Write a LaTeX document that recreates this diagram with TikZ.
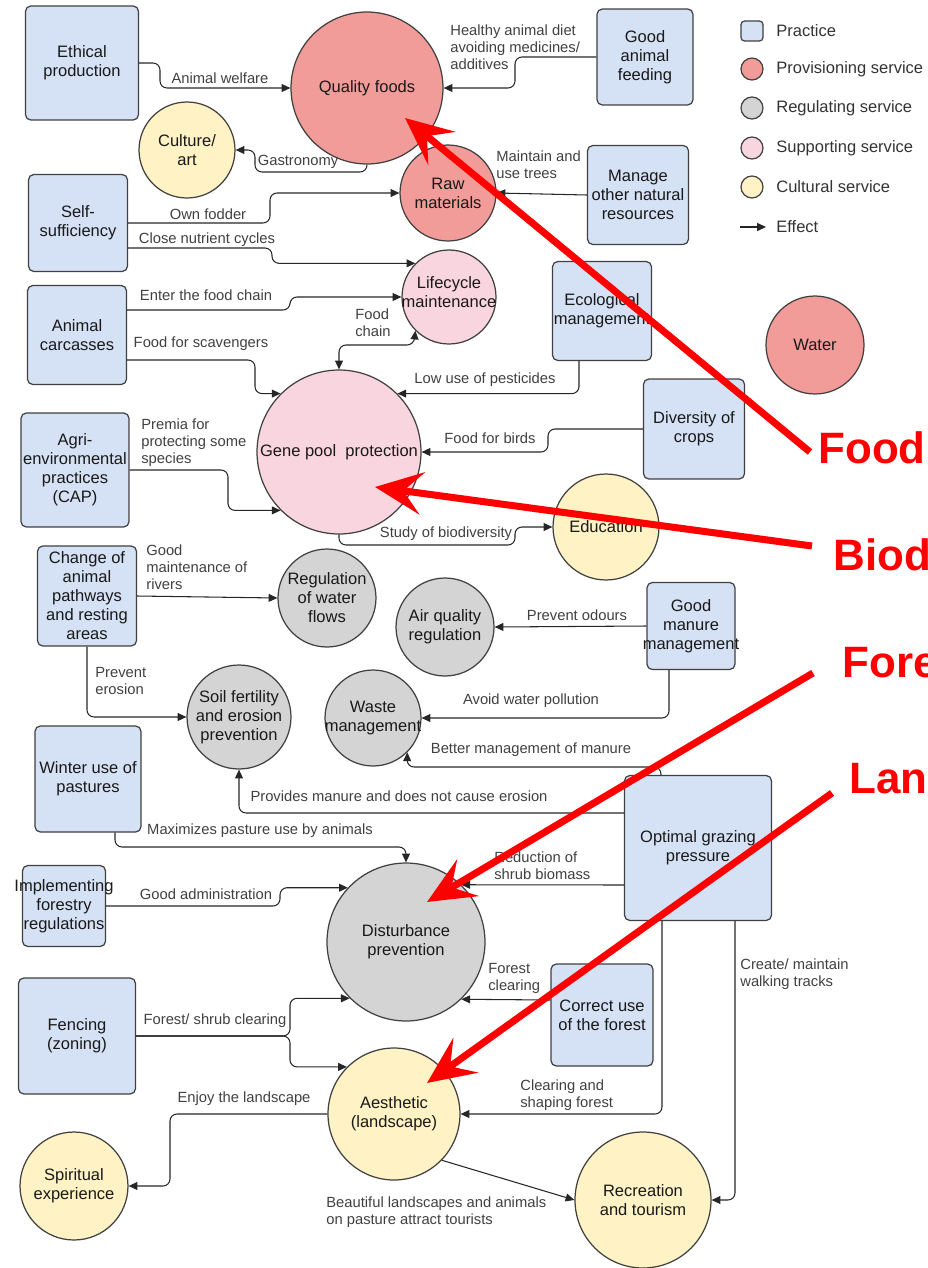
\documentclass[tikz,border=0pt]{standalone}
\usepackage{fontspec}
\setmainfont{Liberation Sans}
\usetikzlibrary{arrows.meta}

\definecolor{practicefill}{RGB}{213,225,244}
\definecolor{provfill}{RGB}{241,156,153}
\definecolor{regfill}{RGB}{212,212,212}
\definecolor{suppfill}{RGB}{249,214,223}
\definecolor{cultfill}{RGB}{255,242,196}
\newcommand{\ndfont}{\fontsize{9.4}{10.8}\selectfont}
\newcommand{\lbfont}{\fontsize{8.4}{9.9}\selectfont}
\newcommand{\rdfont}{\fontsize{25}{30}\selectfont\bfseries}

\begin{document}
\begin{tikzpicture}[x=0.02cm, y=-0.02cm,
    practice/.style={draw=black!75, line width=0.7pt, fill=practicefill, rounded corners=3pt, inner sep=0pt},
    prov/.style={circle, draw=black!75, line width=0.7pt, fill=provfill, inner sep=0pt},
    reg/.style={prov, fill=regfill},
    supp/.style={prov, fill=suppfill},
    cult/.style={prov, fill=cultfill},
    nt/.style={font=\ndfont, text=black!90, align=center, inner sep=0pt},
    effect/.style={draw=black!85, line width=0.6pt, rounded corners=4pt, -{Triangle[length=5pt,width=4.5pt]}},
    lbl/.style={font=\lbfont, text=black!75, align=left, inner sep=0pt},
    lgtxt/.style={font=\ndfont, text=black!80, anchor=west, inner sep=0pt},
    redarrow/.style={draw=red, line width=4pt, -{Stealth[length=0.95cm,width=0.85cm,inset=0.38cm]}},
    redtxt/.style={font=\rdfont, text=red, anchor=base west, inner sep=0pt}]
    \useasboundingbox (0,0) rectangle (927,1268);
    \clip (0,0) rectangle (927,1268);

    % Practices
    \node[practice, minimum width=2.26cm, minimum height=2.28cm, label={[nt]center:{Ethical\\production}}] (ethic) at (82,63) {};
    \node[practice, minimum width=1.92cm, minimum height=1.92cm, label={[nt]center:{Good\\animal\\feeding}}] (feeding) at (645,57) {};
    \node[practice, minimum width=2.02cm, minimum height=1.98cm, label={[nt]center:{Manage\\other natural\\resources}}] (manage) at (638,195) {};
    \node[practice, minimum width=1.98cm, minimum height=1.94cm, label={[nt]center:{Self-\\sufficiency}}] (selfs) at (78,223) {};
    \node[practice, minimum width=1.98cm, minimum height=1.98cm, label={[nt]center:{Animal\\carcasses}}] (carc) at (77,335) {};
    \node[practice, minimum width=1.98cm, minimum height=1.98cm, label={[nt]center:{Ecological\\management}}] (eco) at (602,311) {};
    \node[practice, minimum width=2.02cm, minimum height=2.0cm, label={[nt]center:{Diversity of\\crops}}] (crops) at (694,429) {};
    \node[practice, minimum width=2.16cm, minimum height=2.28cm, label={[nt]center:{Agri-\\environmental\\practices\\(CAP)}}] (agri) at (75,470) {};
    \node[practice, minimum width=1.98cm, minimum height=2.0cm, label={[nt]center:{Change of\\animal\\pathways\\and resting\\areas}}] (chg) at (87,596) {};
    \node[practice, minimum width=1.76cm, minimum height=1.74cm, label={[nt]center:{Good\\manure\\management}}] (manure) at (691,626) {};
    \node[practice, minimum width=2.12cm, minimum height=2.12cm, label={[nt]center:{Winter use of\\pastures}}] (wint) at (88,779) {};
    \node[practice, minimum width=2.94cm, minimum height=2.9cm, label={[nt]center:{Optimal grazing\\pressure}}] (graze) at (698,848) {};
    \node[practice, minimum width=1.66cm, minimum height=1.62cm, label={[nt]center:{Implementing\\forestry\\regulations}}] (impl) at (64,906) {};
    \node[practice, minimum width=2.34cm, minimum height=2.32cm, label={[nt]center:{Fencing\\(zoning)}}] (fence) at (77,1036) {};
    \node[practice, minimum width=2.04cm, minimum height=2.04cm, label={[nt]center:{Correct use\\of the forest}}] (corr) at (602,1015) {};

    % Services
    \node[prov, minimum size=3.04cm, label={[nt]center:Quality foods}] (quality) at (367,88) {};
    \node[cult, minimum size=1.92cm, label={[nt]center:{Culture/\\art}}] (culture) at (187,150) {};
    \node[prov, minimum size=1.92cm, label={[nt]center:{Raw\\materials}}] (raw) at (448,193) {};
    \node[supp, minimum size=1.88cm, label={[nt, yshift=0.1cm]center:{Lifecycle\\maintenance}}] (life) at (449,297) {};
    \node[prov, minimum size=1.96cm, label={[nt]center:Water}] (water) at (815,345) {};
    \node[supp, minimum size=3.28cm, label={[nt]center:Gene pool\ \ protection}] (gene) at (339,452) {};
    \node[cult, minimum size=2.12cm, label={[nt]center:Education}] (edu) at (606,527) {};
    \node[reg, minimum size=1.96cm, label={[nt]center:{Regulation\\of water\\flows}}] (flows) at (327,598) {};
    \node[reg, minimum size=1.96cm, label={[nt]center:{Air quality\\regulation}}] (air) at (445,627) {};
    \node[reg, minimum size=2.08cm, label={[nt]center:{Soil fertility\\and erosion\\prevention}}] (soil) at (239,717) {};
    \node[reg, minimum size=1.92cm, label={[nt]center:{Waste\\management}}] (waste) at (373,718) {};
    \node[reg, minimum size=3.16cm, label={[nt]center:{Disturbance\\prevention}}] (dist) at (406,942) {};
    \node[cult, minimum size=2.64cm, label={[nt]center:{Aesthetic\\(landscape)}}] (aes) at (394,1114) {};
    \node[cult, minimum size=2.16cm, label={[nt]center:{Spiritual\\experience}}] (spirit) at (74,1186) {};
    \node[cult, minimum size=2.72cm, label={[nt]center:{Recreation\\and tourism}}] (rec) at (643,1200) {};

    % Effects
    \draw[effect] (ethic.east) -- (160,63) |- (quality.west);
    \draw[effect] (feeding.west) -- (515,57) |- (quality.east);
    \draw[effect] (quality.south) |- (255,172) |- (culture.east);
    \draw[effect] (selfs.east) -- (270,223) |- (raw.west);
    \draw[effect] ([yshift=-0.5cm]selfs.east) -- (272,248) |- (life.135);
    \draw[effect] (manage.west) -- (raw.east);
    \draw[effect] ([yshift=0.5cm]carc.east) -- (290,310) |- (life.west);
    \draw[effect] ([yshift=-0.5cm]carc.east) -- (255,360) |- (gene.135);
    \draw[effect, {Triangle[length=5pt,width=4.5pt]}-{Triangle[length=5pt,width=4.5pt]}] (gene.north) |- (414,345) -- (life.225);
    \draw[effect] ([xshift=-0.46cm]eco.south) |- (gene.45);
    \draw[effect] (crops.west) -- (548,429) |- (gene.east);
    \draw[effect] (agri.east) -- (228,470) |- (gene.225);
    \draw[effect] (gene.south) |- (515,545) |- (edu.west);
    \draw[effect] (chg.east) -- (flows.west);
    \draw[effect] (chg.south) |- (soil.west);
    \draw[effect] (manure.west) -- (air.east);
    \draw[effect] ([xshift=-0.44cm]manure.south) |- (waste.east);
    \draw[effect] ([xshift=-0.74cm]graze.north) |- (407,767) -- (waste.-45);
    \draw[effect] ([yshift=0.7cm]graze.west) -| (soil.south);
    \draw[effect] ([xshift=0.54cm]wint.south) |- (406,847) -- (dist.north);
    \draw[effect] ([yshift=-0.74cm]graze.west) -- (dist.46);
    \draw[effect] (impl.east) -- (280,906) |- (dist.137);
    \draw[effect] (fence.east) -- (290,1036) |- (dist.225);
    \draw[effect] (fence.east) -- (290,1036) |- (aes.135);
    \draw[effect] ([yshift=0.3cm]corr.west) -- (dist.-46);
    \draw[effect] ([xshift=-0.72cm]graze.south) |- (aes.east);
    \draw[effect] ([xshift=0.74cm]graze.south) |- (rec.east);
    \draw[effect] (aes.west) -- (170,1114) |- (spirit.east);
    \draw[effect] (aes.-44) -- (rec.west);

    % Effect labels
    \node[lbl] (l1) at (220,78) {Animal welfare};
    \node[lbl, anchor=north west] (l2) at (450,24) {Healthy animal diet\\avoiding medicines/\\additives};
    \node[lbl] (l3) at (298,162) {Gastronomy};
    \node[lbl] (l4) at (208,214) {Own fodder};
    \node[lbl] (l5) at (207,240) {Close nutrient cycles};
    \node[lbl, anchor=north west] (l6) at (496,150) {Maintain and\\use trees};
    \node[lbl] (l7) at (206,295) {Enter the food chain};
    \node[lbl] (l8) at (201,344) {Food for scavengers};
    \node[lbl, anchor=north west] (l9) at (355,308) {Food\\chain};
    \node[lbl] (l10) at (485,380) {Low use of pesticides};
    \node[lbl] (l11) at (490,438) {Food for birds};
    \node[lbl, anchor=north west] (l12) at (141,418) {Premia for\\protecting some\\species};
    \node[lbl] (l13) at (446,534) {Study of biodiversity};
    \node[lbl, anchor=north west] (l14) at (146,544) {Good\\maintenance of\\rivers};
    \node[lbl, anchor=north west] (l15) at (95,667) {Prevent\\erosion};
    \node[lbl] (l16) at (577,615) {Prevent odours};
    \node[lbl] (l17) at (531,701) {Avoid water pollution};
    \node[lbl] (l18) at (531,750) {Better management of manure};
    \node[lbl] (l19) at (399,796) {Provides manure and does not cause erosion};
    \node[lbl] (l20) at (260,831) {Maximizes pasture use by animals};
    \node[lbl, anchor=north west] (l21) at (494,851) {Reduction of\\shrub biomass};
    \node[lbl] (l22) at (206,894) {Good administration};
    \node[lbl] (l23) at (215,1021) {Forest/ shrub clearing};
    \node[lbl, anchor=north west] (l24) at (488,963) {Forest\\clearing};
    \node[lbl, anchor=north west] (l25) at (520,1079) {Clearing and\\shaping forest};
    \node[lbl, anchor=north west] (l26) at (740,958) {Create/ maintain\\walking tracks};
    \node[lbl] (l27) at (244,1099) {Enjoy the landscape};
    \node[lbl, anchor=north west] (l28) at (326,1196) {Beautiful landscapes and animals\\on pasture attract tourists};

    % Legend
    \node[practice, minimum width=0.44cm, minimum height=0.4cm, rounded corners=2pt] (lgp) at (752,31) {};
    \node[lgtxt] (lgtp) at (776,31) {Practice};
    \foreach \y/\sty/\txt [count=\i] in {69/prov/Provisioning service, 108/reg/Regulating service, 148/supp/Supporting service, 187/cult/Cultural service} {
        \node[\sty, minimum size=0.44cm] (lgc\i) at (752,\y) {};
        \node[lgtxt] (lgt\i) at (776,\y) {\txt};
    }
    \coordinate (lgA) at (740,227);
    \coordinate (lgB) at (766,227);
    \draw[effect] (lgA) -- (lgB);
    \node[lgtxt] (lgte) at (776,227) {Effect};

    % Red highlights
    \node[redtxt] (fdL) at (818,463) {Food};
    \node[redtxt] (bdL) at (833,570) {Biod};
    \node[redtxt] (frL) at (842,677) {Fore};
    \node[redtxt] (lnL) at (849,793) {Land};
    \coordinate (fdS) at (810,452);
    \coordinate (fdT) at (405,118);
    \coordinate (bdS) at (812,546);
    \coordinate (bdT) at (375,487);
    \coordinate (frS) at (813,673);
    \coordinate (frT) at (427,902);
    \coordinate (lnS) at (832,793);
    \coordinate (lnT) at (427,1083);
    \draw[redarrow] (fdS) -- (fdT);
    \draw[redarrow] (bdS) -- (bdT);
    \draw[redarrow] (frS) -- (frT);
    \draw[redarrow] (lnS) -- (lnT);
\end{tikzpicture}
\end{document}
